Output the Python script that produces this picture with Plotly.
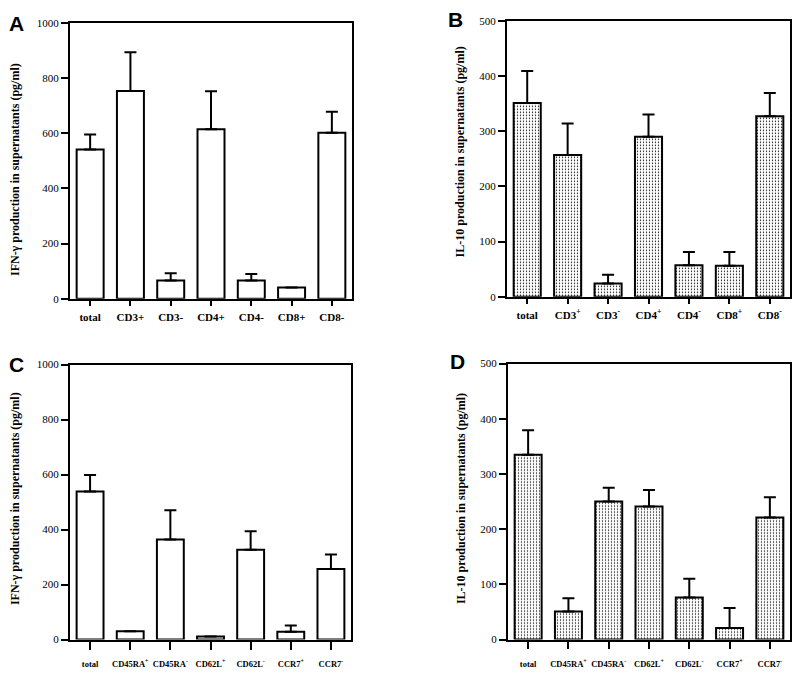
import plotly.graph_objects as go

W, H = 800, 677

# ---- data ----
cats_top = ["total", "CD3+", "CD3-", "CD4+", "CD4-", "CD8+", "CD8-"]
labels_a = ["total", "CD3+", "CD3-", "CD4+", "CD4-", "CD8+", "CD8-"]
labels_b = ["total", "CD3<sup>+</sup>", "CD3<sup>-</sup>", "CD4<sup>+</sup>",
            "CD4<sup>-</sup>", "CD8<sup>+</sup>", "CD8<sup>-</sup>"]
ifn_a = [541, 753, 66, 614, 66, 41, 601]
ifn_a_err = [54, 140, 26, 138, 24, 0, 76]
il10_b = [351, 257, 24, 290, 57, 56, 327]
il10_b_err = [58, 57, 16, 40, 24, 25, 42]

cats_bottom = ["total", "CD45RA+", "CD45RA-", "CD62L+", "CD62L-", "CCR7+", "CCR7-"]
labels_cd = ["total", "CD45RA<sup>+</sup>", "CD45RA<sup>-</sup>", "CD62L<sup>+</sup>",
             "CD62L<sup>-</sup>", "CCR7<sup>+</sup>", "CCR7<sup>-</sup>"]
ifn_c = [538, 30, 364, 11, 327, 28, 257]
ifn_c_err = [60, 0, 106, 0, 67, 23, 52]
il10_d = [335, 51, 250, 241, 76, 21, 221]
il10_d_err = [44, 24, 25, 30, 34, 36, 37]

ifn_title = "IFN-γ production in supernatants (pg/ml)"
il10_title = "IL-10 production in supernatants (pg/ml)"

SERIF = "Liberation Serif"
SANS = "Liberation Sans"


def px_x(v):
    return v / W


def px_y(v):
    return 1 - v / H


panels = [
    # key, cats, labels, vals, errs, patterned, xdom(px), ydom(px top,bottom), ymax, dtick, xfont, ticklen, standoff
    ("", cats_top, labels_a, ifn_a, ifn_a_err, False, (70, 352), (17, 298), 1000, 200, 11, 5, 2),
    ("2", cats_top, labels_b, il10_b, il10_b_err, True, (507, 790), (15, 296), 500, 100, 11, 5, 2),
    ("3", cats_bottom, labels_cd, ifn_c, ifn_c_err, False, (70, 351), (365, 645), 1000, 200, 8.5, 8, 7),
    ("4", cats_bottom, labels_cd, il10_d, il10_d_err, True, (508, 790), (364, 645), 500, 100, 8.5, 7, 8),
]

fig = go.Figure()
layout = dict(
    width=W, height=H, margin=dict(l=0, r=0, t=0, b=0),
    paper_bgcolor="white", plot_bgcolor="white", showlegend=False,
    bargap=0.33,
)

for key, cats, labels, vals, errs, patterned, xd, yd, ymax, dtick, xfs, tlen, stand in panels:
    marker = dict(color="white", line=dict(color="black", width=2))
    if patterned:
        marker["pattern"] = dict(shape=".", size=3, solidity=0.15,
                                 fgcolor="black", bgcolor="white", fillmode="replace")
    fig.add_trace(go.Bar(
        x=cats, y=vals, marker=marker,
        error_y=dict(type="data", symmetric=False, array=errs,
                     arrayminus=[0] * len(errs), width=6, thickness=2, color="black"),
        xaxis="x" + key, yaxis="y" + key,
    ))
    layout["xaxis" + key] = dict(
        domain=[px_x(xd[0]), px_x(xd[1])], anchor="y" + key,
        range=[-0.5, 6.5], showline=True, linewidth=2, linecolor="black", mirror=True,
        ticks="outside", ticklen=tlen, tickwidth=1.5, tickcolor="black",
        tickvals=cats, ticktext=labels, ticklabelstandoff=stand,
        tickfont=dict(family=SERIF, size=xfs, color="black", weight="bold"),
        showgrid=False, zeroline=False, fixedrange=True,
    )
    layout["yaxis" + key] = dict(
        domain=[px_y(yd[1]), px_y(yd[0])], anchor="x" + key,
        range=[0, ymax], tick0=0, dtick=dtick,
        showline=True, linewidth=2, linecolor="black", mirror=True,
        ticks="outside", ticklen=7, tickwidth=1.5, tickcolor="black",
        tickfont=dict(family=SERIF, size=11, color="black"),
        showgrid=False, zeroline=False, fixedrange=True,
    )

annotations = []
# y-axis titles
for text, xc, yc in [(ifn_title, 15, 167), (il10_title, 460, 148),
                     (ifn_title, 15, 502), (il10_title, 461, 502)]:
    annotations.append(dict(
        text=text, xref="paper", yref="paper", x=px_x(xc), y=px_y(yc),
        xanchor="center", yanchor="middle", textangle=-90, showarrow=False,
        font=dict(family=SERIF, size=12, color="black", weight="bold"),
    ))
# panel letters
for letter, xc, yc in [("A", 16, 18), ("B", 456, 14), ("C", 16, 365), ("D", 457, 362)]:
    annotations.append(dict(
        text=letter, xref="paper", yref="paper", x=px_x(xc), y=px_y(yc),
        xanchor="center", yanchor="middle", showarrow=False,
        font=dict(family=SANS, size=21, color="black", weight="bold"),
    ))
layout["annotations"] = annotations

fig.update_layout(**layout)
fig.write_html(
    "out.html",
    config={"displayModeBar": False},
    post_script="document.body.style.margin='0';document.body.style.overflow='hidden';",
)
